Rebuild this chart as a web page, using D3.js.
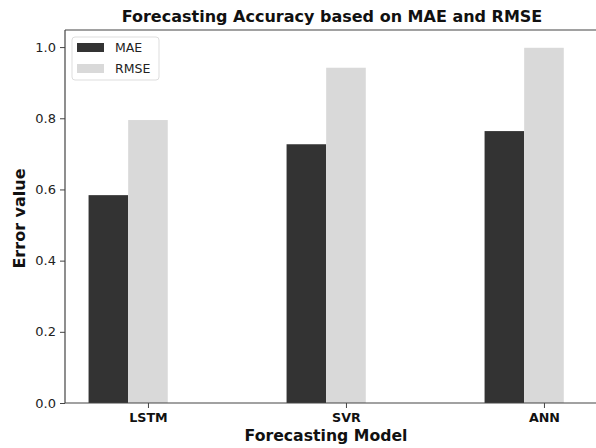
<!DOCTYPE html>
<html>
<head>
<meta charset="utf-8">
<script src="https://cdn.jsdelivr.net/npm/d3@7"></script>
<style>
  body { margin: 0; background: #fff; }
  svg { display: block; font-family: "DejaVu Sans", sans-serif; }
</style>
</head>
<body>
<svg id="chart" width="596" height="448"></svg>
<script>
const models = ['LSTM', 'SVR', 'ANN'];
const mae = [0.584, 0.727, 0.764];
const rmse = [0.795, 0.942, 0.998];
const yTicks = [0.0, 0.2, 0.4, 0.6, 0.8, 1.0];
const seriesNames = ['MAE', 'RMSE'];
const colors = { MAE: '#333333', RMSE: '#d9d9d9' };

const width = 596;
const height = 448;
const plot_left = 65, plot_right = 600, plot_top = 30, plot_bottom = 403;
const barW = 0.2;

const svg = d3.select('#chart');

const x = d3.scaleLinear().domain([-0.419, 2.283]).range([plot_left, plot_right]);
const y = d3.scaleLinear().domain([0, 1.048]).range([plot_bottom, plot_top]);

// bars: MAE left of tick, RMSE centred on tick
const bars = [];
models.forEach((m, i) => {
    bars.push({ key: 'MAE', pos: i - barW, v: mae[i] });
    bars.push({ key: 'RMSE', pos: i, v: rmse[i] });
});

svg.append('g').selectAll('rect')
    .data(bars)
    .enter().append('rect')
    .attr('x', d => x(d.pos - barW / 2))
    .attr('width', d => x(d.pos + barW / 2) - x(d.pos - barW / 2))
    .attr('y', d => y(d.v))
    .attr('height', d => y(0) - y(d.v))
    .attr('fill', d => colors[d.key]);

// axes
const yAxis = d3.axisLeft(y).tickValues(yTicks).tickFormat(d3.format('.1f')).tickSize(5).tickPadding(4);
const gy = svg.append('g').attr('transform', `translate(${plot_left},0)`).call(yAxis);
gy.select('.domain').remove();
gy.selectAll('line').attr('stroke', '#444');
gy.selectAll('text').attr('font-size', 13).attr('fill', '#222').attr('font-family', 'DejaVu Sans');

const xAxis = d3.axisBottom(x).tickValues([0, 1, 2]).tickFormat(i => models[i]).tickSize(5).tickPadding(5);
const gx = svg.append('g').attr('transform', `translate(0,${plot_bottom})`).call(xAxis);
gx.select('.domain').remove();
gx.selectAll('line').attr('stroke', '#444');
gx.selectAll('text').attr('font-size', 12.7).attr('font-weight', 'bold').attr('fill', '#111').attr('font-family', 'DejaVu Sans');

// spines
svg.append('line').attr('x1', plot_left).attr('x2', plot_left).attr('y1', plot_top).attr('y2', plot_bottom).attr('stroke', '#444').attr('stroke-width', 1.2);
svg.append('line').attr('x1', plot_left).attr('x2', plot_right).attr('y1', plot_bottom).attr('y2', plot_bottom).attr('stroke', '#444').attr('stroke-width', 1.2);
svg.append('line').attr('x1', plot_left).attr('x2', plot_right).attr('y1', plot_top).attr('y2', plot_top).attr('stroke', '#444').attr('stroke-width', 1.2);

// titles
svg.append('text')
    .attr('x', 332).attr('y', 22)
    .attr('text-anchor', 'middle')
    .attr('font-size', 16).attr('font-weight', 'bold').attr('fill', '#111')
    .text('Forecasting Accuracy based on MAE and RMSE');

svg.append('text')
    .attr('x', 326).attr('y', 441)
    .attr('text-anchor', 'middle')
    .attr('font-size', 15.7).attr('font-weight', 'bold').attr('fill', '#111')
    .text('Forecasting Model');

svg.append('text')
    .attr('transform', `translate(25,${(plot_top + plot_bottom) / 2 + 2}) rotate(-90)`)
    .attr('text-anchor', 'middle')
    .attr('font-size', 16).attr('font-weight', 'bold').attr('fill', '#111')
    .text('Error value');

// legend
const lg = svg.append('g').attr('transform', 'translate(72,37)');
lg.append('rect').attr('width', 87).attr('height', 43).attr('rx', 3)
    .attr('fill', '#fff').attr('stroke', '#ddd');
seriesNames.forEach((s, i) => {
    lg.append('rect').attr('x', 5).attr('y', 6 + i * 21).attr('width', 27).attr('height', 9).attr('fill', colors[s]);
    lg.append('text').attr('x', 43).attr('y', 15 + i * 21)
        .attr('font-size', 12.5).attr('fill', '#222').text(s);
});
</script>
</body>
</html>
